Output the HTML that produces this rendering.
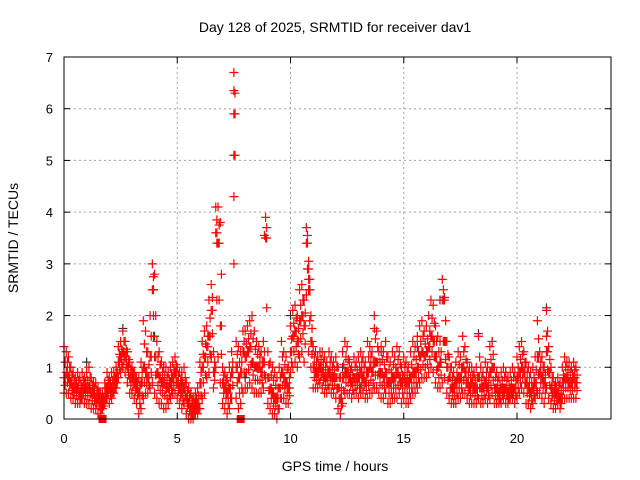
<!DOCTYPE html>
<html><head><meta charset="utf-8">
<style>
html,body{margin:0;padding:0;background:#fff;}
svg{display:block;font-family:"Liberation Sans",sans-serif;}
</style></head>
<body>
<svg id="chart" width="640" height="480" viewBox="0 0 640 480">
<rect width="640" height="480" fill="#fff"/>
<text x="335" y="32" font-size="14" text-anchor="middle">Day 128 of 2025, SRMTID for receiver dav1</text>
<text x="335" y="471" font-size="14" text-anchor="middle">GPS time / hours</text>
<text transform="translate(18,238) rotate(-90)" font-size="14" text-anchor="middle">SRMTID / TECUs</text>
<g id="grid"></g>
<g id="ticks"></g>
<g id="black"></g>
<g id="red"></g>
<rect x="64" y="57" width="547" height="362" fill="none" stroke="#000" stroke-width="1"/>
</svg>
<script>
const xTicks=[0,5,10,15,20];
const yTicks=[0,1,2,3,4,5,6,7];
const redHi=[1.4,1.3,1.2,1.0,0.9,0.8,0.9,0.8,0.9,0.8, 0.9,1.0,0.8,0.7,0.7,0.6,0.5,0.5,0.7,0.9, 0.8,0.9,0.9,1.0,1.4,1.5,1.7,1.5,1.3,1.1, 1.0,0.9,0.8,0.8,1.1,1.9,1.7,1.3,2.0,3.0, 2.8,1.5,1.3,1.1,1.0,1.0,0.9,1.0,1.1,1.2, 1.0,0.9,0.9,1.0,0.7,0.6,0.5,0.4,0.5,0.6, 1.1,1.5,1.7,1.8,2.3,2.6,1.3,4.1,4.1,3.8, 1.0,0.9,0.8,1.0,1.3,6.7,1.5,1.4,1.3,1.7, 1.7,1.8,1.9,2.0,1.7,1.5,1.4,1.3,1.5,3.9, 1.3,1.1,1.0,0.9,0.8,1.0,1.5,1.3,1.2,1.0, 1.8,2.1,2.2,2.0,2.5,2.6,2.3,3.7,2.9,2.0, 1.4,1.3,1.2,1.3,1.3,1.2,1.1,1.3,1.2,1.1, 1.2,1.0,0.8,1.3,1.5,1.4,1.1,1.0,1.2,1.1, 1.2,1.3,1.2,1.1,1.5,1.4,1.3,2.0,1.7,1.3, 1.4,1.3,1.5,1.2,1.1,1.3,1.2,1.4,1.3,1.0, 1.2,1.1,1.0,1.3,1.5,1.4,1.6,1.8,1.9,1.7, 1.8,2.0,2.3,2.2,1.8,1.6,1.5,2.7,2.3,1.5, 1.2,1.0,0.9,1.1,1.3,1.2,1.6,1.4,1.1,1.0, 1.0,0.9,1.0,1.6,1.0,0.9,1.1,1.0,1.4,1.5, 1.0,0.9,0.8,0.9,1.0,0.9,0.8,0.9,1.0,0.9, 1.2,1.4,1.5,1.3,1.1,1.0,0.9,1.0,1.2,1.9, 1.3,1.2,1.0,2.1,1.4,1.0,0.8,0.7,0.8,0.7, 1.0,1.2,1.1,1.1,1.0,1.1,1.0];
const redMid=[0.8,0.9,0.8,0.7,0.6,0.6,0.6,0.5,0.6,0.6, 0.6,0.6,0.5,0.5,0.4,0.4,0.3,0.3,0.5,0.6, 0.6,0.6,0.7,0.8,1.1,1.2,1.3,1.2,1.0,0.8, 0.8,0.7,0.6,0.5,0.7,1.0,0.9,0.8,1.2,2.5, 1.2,0.9,0.8,0.7,0.7,0.6,0.6,0.7,0.8,0.9, 0.7,0.6,0.5,0.6,0.4,0.3,0.2,0.2,0.3,0.3, 0.7,1.0,1.2,1.4,1.6,2.1,0.9,3.6,3.4,1.8, 0.7,0.6,0.5,0.6,0.9,5.9,1.0,0.8,0.9,1.3, 1.2,1.3,1.4,1.1,1.0,1.0,1.0,0.9,1.1,3.5, 0.8,0.6,0.5,0.4,0.4,0.6,0.9,0.8,0.7,0.6, 1.3,1.6,1.7,1.5,1.9,2.0,1.8,3.4,2.5,1.5, 1.0,0.9,0.9,1.0,0.9,0.8,0.8,0.9,0.8,0.8, 0.8,0.6,0.4,0.8,0.9,0.9,0.8,0.7,0.8,0.8, 0.8,0.9,0.8,0.7,0.9,1.0,0.9,1.1,1.1,0.9, 0.9,0.8,0.9,0.7,0.7,0.8,0.8,0.9,0.8,0.7, 0.8,0.7,0.7,0.8,0.9,0.9,1.0,1.2,1.3,1.2, 1.3,1.4,1.6,1.5,1.2,1.0,1.1,2.3,1.5,1.0, 0.8,0.6,0.6,0.7,0.8,0.8,1.0,0.9,0.7,0.6, 0.7,0.6,0.6,0.8,0.6,0.6,0.7,0.6,0.9,1.0, 0.6,0.6,0.5,0.6,0.6,0.6,0.5,0.6,0.6,0.6, 0.8,0.9,1.0,0.9,0.7,0.6,0.5,0.6,0.7,1.2, 0.9,0.8,0.7,1.3,0.9,0.6,0.5,0.5,0.5,0.4, 0.7,0.8,0.8,0.7,0.7,0.8,0.7];
const redLo=[0.5,0.5,0.5,0.4,0.4,0.3,0.3,0.3,0.4,0.3, 0.3,0.3,0.2,0.2,0.2,0.1,0.1,0.2,0.3,0.4, 0.3,0.4,0.5,0.6,0.8,0.9,1.0,0.9,0.7,0.5, 0.5,0.4,0.3,0.1,0.2,0.4,0.5,0.5,0.6,0.7, 0.5,0.4,0.3,0.3,0.2,0.2,0.3,0.4,0.5,0.5, 0.4,0.3,0.2,0.3,0.1,0.0,0.0,0.0,0.1,0.1, 0.2,0.4,0.5,0.8,0.9,1.2,0.6,1.0,1.2,0.7, 0.3,0.2,0.1,0.2,0.4,4.3,0.4,0.2,0.3,0.5, 0.6,0.6,0.7,0.6,0.5,0.5,0.5,0.5,0.6,0.8, 0.3,0.2,0.1,0.1,0.0,0.2,0.4,0.4,0.3,0.3, 0.9,1.0,1.1,1.0,1.2,1.3,1.1,2.4,1.3,1.0, 0.6,0.6,0.6,0.7,0.6,0.5,0.5,0.6,0.5,0.5, 0.4,0.2,0.1,0.3,0.5,0.5,0.5,0.4,0.5,0.5, 0.4,0.5,0.5,0.4,0.4,0.5,0.5,0.6,0.6,0.5, 0.4,0.4,0.5,0.3,0.3,0.4,0.4,0.4,0.5,0.3, 0.4,0.3,0.3,0.4,0.5,0.5,0.6,0.7,0.8,0.8, 0.8,0.9,1.0,0.9,0.7,0.6,0.6,0.7,0.8,0.5, 0.4,0.3,0.3,0.3,0.4,0.4,0.5,0.5,0.4,0.3, 0.3,0.3,0.3,0.4,0.3,0.3,0.4,0.3,0.4,0.5, 0.3,0.3,0.3,0.3,0.4,0.3,0.3,0.4,0.4,0.3, 0.4,0.5,0.6,0.5,0.3,0.3,0.2,0.3,0.4,0.5, 0.5,0.4,0.3,0.6,0.4,0.3,0.2,0.2,0.3,0.2, 0.4,0.4,0.4,0.4,0.4,0.4,0.4];
const redExtraT=[7.5,7.5,7.5,6.75,3.95,3.95,8.85,10.8,10.8,13.7,16.8,21.3];
const redExtraV=[6.35,5.1,3.0,3.4,2.5,2.0,3.55,3.05,2.7,1.75,2.35,1.6];
const blackT=[1.0,2.6,4.0,6.5,8.0,10.0,10.85,12.3,14.0,16.6,18.3,18.9,21.3,17.2,19.5,15.6,13.1,5.2];
const blackV=[1.1,1.75,1.6,1.2,0.8,2.0,2.5,1.0,1.3,2.3,1.65,1.5,2.15,0.3,0.9,1.4,0.6,0.7];
const squareT=[1.7,7.8];
const squareV=[0,0];
const STEP=0.1;
const X0=64,X1=611,XMAX=24.15,Y0=419,Y1=57,YMAX=7;
function sx(t){return X0+(t/XMAX)*(X1-X0);}
function sy(v){return Y0-(v/YMAX)*(Y0-Y1);}
const NS="http://www.w3.org/2000/svg";
function mk(tag,attrs,parent){const e=document.createElementNS(NS,tag);for(const k in attrs)e.setAttribute(k,attrs[k]);parent.appendChild(e);return e;}
const grid=document.getElementById('grid'),ticks=document.getElementById('ticks');
xTicks.forEach(t=>{
  const x=sx(t);
  if(t>0){const g=mk('line',{x1:x,y1:Y1,x2:x,y2:Y0,stroke:'#a0a0a0','stroke-dasharray':'2,3'},grid);
  
  }
  mk('line',{x1:x,y1:Y0,x2:x,y2:Y0-6,stroke:'#000'},ticks);
  mk('line',{x1:x,y1:Y1,x2:x,y2:Y1+6,stroke:'#000'},ticks);
  const l=mk('text',{x:x,y:Y0+24,'font-size':13,'text-anchor':'middle'},ticks);
  l.textContent=t;
  
  
});
yTicks.forEach(v=>{
  const y=sy(v);
  if(v>0&&v<7){const g=mk('line',{x1:X0,y1:y,x2:X1,y2:y,stroke:'#a0a0a0','stroke-dasharray':'2,3'},grid);
  
  }
  mk('line',{x1:X0,y1:y,x2:X0+6,y2:y,stroke:'#000'},ticks);
  mk('line',{x1:X1,y1:y,x2:X1-6,y2:y,stroke:'#000'},ticks);
  const l=mk('text',{x:X0-11,y:y+5,'font-size':13,'text-anchor':'end'},ticks);
  l.textContent=v;
  
  
});
function plus(g,t,v,col,name){
  const x=sx(t),y=sy(v);
  const p=mk('path',{d:`M${x-4.5},${y}H${x+4.5}M${x},${y-4.5}V${y+4.5}`,stroke:col,'stroke-width':1.2,fill:'none'},g);
  
  
}
const bg=document.getElementById('black'),rg=document.getElementById('red');
blackT.forEach((t,i)=>plus(bg,t,blackV[i],'#333','black-point'));
[redHi,redMid,redLo].forEach(arr=>arr.forEach((v,i)=>{
  plus(rg,i*STEP,v,'#f00','red-point');
  const mid=(v+redMid[i])/2;
  plus(rg,i*STEP+0.05,mid,'#f00','red-point');
}));
redExtraT.forEach((t,i)=>plus(rg,t,redExtraV[i],'#f00','red-point'));
squareT.forEach((t,i)=>{
  const r=mk('rect',{x:sx(t)-4,y:sy(squareV[i])-4,width:8,height:8,fill:'#f00'},rg);
  
  
});
</script>
</body></html>
